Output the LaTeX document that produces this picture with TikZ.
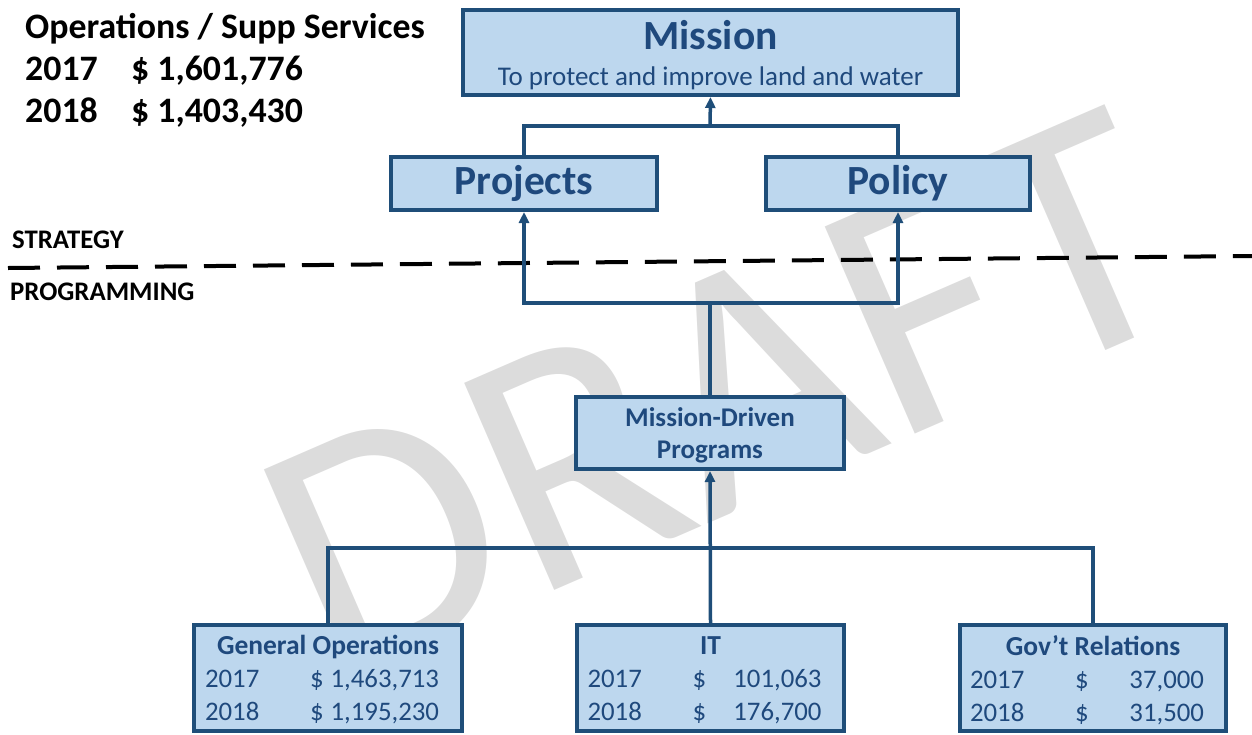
\documentclass[tikz,border=0pt]{standalone}
\usepackage{fontspec}
\setmainfont{Carlito}
\usetikzlibrary{positioning,arrows.meta}

\definecolor{boxfill}{RGB}{189,215,238}
\definecolor{boxline}{RGB}{31,78,121}
\definecolor{boxtext}{RGB}{31,73,125}
\definecolor{markgray}{RGB}{220,220,220}

% one budget line: year, dollar sign in a fixed column, amount flush right
\newcommand{\fundrow}[2]{\makebox[246pt][l]{\makebox[234pt][s]{\makebox[105pt][l]{#1}\$\hfill#2}}}

\begin{document}
\begin{tikzpicture}[x=1pt,y=-1pt,>={Triangle[length=11pt,width=10pt]}]
    \tikzset{box/.style={draw=boxline, fill=boxfill, line width=4pt, text=boxtext, align=center, inner sep=0pt}}
    \tikzset{link/.style={draw=boxline, line width=3.5pt}}
    \tikzset{tag/.style={anchor=west, inner sep=0pt, font=\fontsize{26.8}{30}\selectfont\bfseries}}
    \useasboundingbox (0,0) rectangle (1252,734);

    % Watermark
    \node[text=markgray, rotate=23.5, inner sep=0pt, font=\fontsize{352}{352}\selectfont] (draft) at (721,395) {DRAFT};

    % Totals and level labels
    \node[anchor=north west, inner sep=0pt, align=left, font=\fontsize{35.8}{42}\selectfont\bfseries] (totals) at (25,13)
        {Operations / Supp Services\\\makebox[106pt][l]{2017}\$ 1,601,776\\\makebox[106pt][l]{2018}\$ 1,403,430};
    \node[tag] (strategy) at (12,240) {STRATEGY};
    \node[tag] (programming) at (10,292) {PROGRAMMING};
    \coordinate (cutL) at (8,268);
    \coordinate (cutR) at (1252,256);
    \draw[line width=4pt, dash pattern=on 32pt off 17pt] (cutL) -- (cutR);

    % Nodes
    \node[box, minimum width=495pt, minimum height=85pt, text depth=0pt, font=\fontsize{27}{36}\selectfont] (mission) at (710.5,52.5)
        {{\fontsize{41.5}{41.5}\selectfont\bfseries Mission}\\To protect and improve land and water};
    \node[box, minimum width=266pt, minimum height=53pt, font=\fontsize{41.5}{44}\selectfont\bfseries] (projects) at (524,183.5) {Projects};
    \node[box, minimum width=264pt, minimum height=53pt, font=\fontsize{41.5}{44}\selectfont\bfseries] (policy) at (898,183.5) {Policy};
    \node[box, minimum width=268pt, minimum height=72pt, text depth=0pt, font=\fontsize{27}{32}\selectfont\bfseries] (programs) at (710,433) {Mission-Driven\\Programs};
    \node[box, minimum width=268pt, minimum height=106pt, text depth=0pt, font=\fontsize{26.8}{33}\selectfont] (genops) at (328,678)
        {\textbf{\fontsize{27.5}{33}\selectfont General Operations}\\\fundrow{2017}{1,463,713}\\\fundrow{2018}{1,195,230}};
    \node[box, minimum width=267pt, minimum height=106pt, text depth=0pt, font=\fontsize{26.8}{33}\selectfont] (it) at (710.5,678)
        {\textbf{\fontsize{27.5}{33}\selectfont IT\vphantom{l}}\\\fundrow{2017}{101,063}\\\fundrow{2018}{176,700}};
    \node[box, minimum width=266pt, minimum height=106pt, text depth=0pt, font=\fontsize{26.8}{33}\selectfont] (govrel) at (1093,678)
        {\textbf{\fontsize{27.5}{33}\selectfont Gov’t Relations}\\\fundrow{2017}{37,000}\\\fundrow{2018}{31,500}};

    % Junctions
    \coordinate (topjoin) at (710,126);
    \coordinate (midjoin) at (710,303);
    \coordinate (lowjoin) at (710,548);

    % Strategy level
    \draw[link] (projects.north) |- (topjoin) -| (policy.north);
    \draw[link, ->] (topjoin) -- (mission.south);

    % Programs up to strategy
    \draw[link] (programs.north) -- (midjoin);
    \draw[link, ->] (midjoin) -| (projects.south);
    \draw[link, ->] (midjoin) -| (policy.south);

    % Budget lines up to programs
    \draw[link] (genops.north) |- (lowjoin) -| (govrel.north);
    \draw[link, ->] (it.north) -- (programs.south);
\end{tikzpicture}
\end{document}
